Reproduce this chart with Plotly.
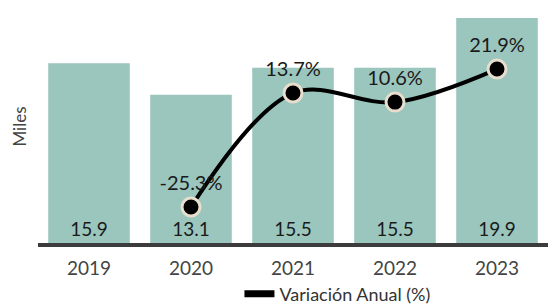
import plotly.graph_objects as go

years = ["2019", "2020", "2021", "2022", "2023"]
miles = [15.9, 13.1, 15.5, 15.5, 19.9]
variacion = [None, -25.3, 13.7, 10.6, 21.9]
bar_labels = ["15.9", "13.1", "15.5", "15.5", "19.9"]
var_labels = ["", "-25.3%", "13.7%", "10.6%", "21.9%"]

FONT = "Lato"

fig = go.Figure()
fig.add_trace(go.Bar(
    x=years, y=miles, name="Miles",
    marker=dict(color="#9ac6be", line=dict(width=0)),
    text=bar_labels, textposition="inside", insidetextanchor="start",
    textfont=dict(family=FONT, size=19, color="#1a1a1a"),
    textangle=0, showlegend=False, hoverinfo="skip",
))
fig.add_trace(go.Scatter(
    x=years, y=variacion, name="Variación Anual (%)", yaxis="y2",
    mode="lines+markers+text",
    line=dict(color="#000000", width=4, shape="spline", smoothing=1.0),
    marker=dict(color="#000000", size=18, line=dict(color="#e8decd", width=3)),
    text=var_labels, textposition="top center",
    textfont=dict(family=FONT, size=20, color="#1a1a1a"),
    connectgaps=False, showlegend=False,
))
# legend entry (line only)
fig.add_trace(go.Scatter(
    x=[None], y=[None], name="Variación Anual (%)", yaxis="y2",
    mode="lines", line=dict(color="#000000", width=7),
    showlegend=True,
))

fig.update_layout(
    width=552, height=304,
    margin=dict(l=38, r=4, t=10, b=61, autoexpand=False),
    paper_bgcolor="white", plot_bgcolor="white",
    bargap=0.2,
    font=dict(family=FONT, color="#444444"),
    xaxis=dict(
        type="category", range=[-0.5, 4.5],
        showline=True, linecolor="#3c3c3c", linewidth=4,
        ticks="", showgrid=False, automargin=False,
        ticklabelstandoff=5,
        tickfont=dict(family=FONT, size=19, color="#444444"),
    ),
    yaxis=dict(
        range=[0, 20.6], showticklabels=False, showgrid=False, zeroline=False,
        automargin=False,
        title=dict(text="Miles", font=dict(family=FONT, size=17, color="#444444"), standoff=6),
    ),
    yaxis2=dict(
        overlaying="y", range=[-37.6, 42.1], showticklabels=False,
        showgrid=False, zeroline=False, automargin=False,
    ),
    legend=dict(
        orientation="h", x=0.395, xanchor="left", y=-0.14, yanchor="top",
        font=dict(family=FONT, size=18, color="#333333"),
        bgcolor="rgba(0,0,0,0)",
    ),
    showlegend=True,
)

fig.write_html("out.html", config={"displayModeBar": False},
               post_script="document.body.style.margin='0';")
